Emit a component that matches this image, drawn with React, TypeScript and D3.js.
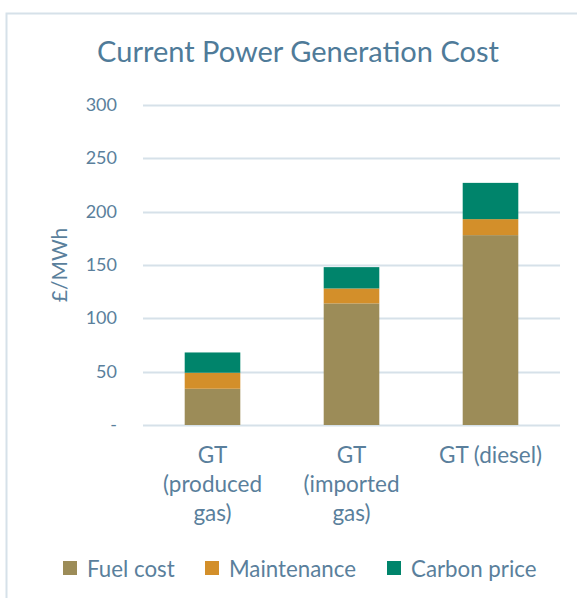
import React, { useEffect, useRef } from 'react';
import * as d3 from 'd3';

const categories = ['GT (produced gas)', 'GT (imported gas)', 'GT (diesel)'];
const categoryLines = [
  ['GT', '(produced', 'gas)'],
  ['GT', '(imported', 'gas)'],
  ['GT (diesel)'],
];
const seriesNames = ['Fuel cost', 'Maintenance', 'Carbon price'];
const fuelCost = [34, 114, 178];
const maintenance = [15, 14, 15];
const carbonPrice = [19, 20, 34];
const yTicks = [0, 50, 100, 150, 200, 250, 300];
const colors = ['#9c8c58', '#d38f2a', '#00846b'];

const WIDTH = 577;
const HEIGHT = 598;
const FONT = 'Lato, "Open Sans", sans-serif';
const TEXT = '#5a7f9c';

export default function App() {
  const svgRef = useRef<SVGSVGElement>(null);

  useEffect(() => {
    if (!svgRef.current) return;
    const svg = d3.select(svgRef.current);
    svg.selectAll('*').remove();

    // outer frame (continues past the right/bottom edges)
    svg
      .append('path')
      .attr('d', `M6.5,${HEIGHT + 5}V13.5H${WIDTH + 5}`)
      .attr('fill', 'none')
      .attr('stroke', '#d6e1e9')
      .attr('stroke-width', 2);

    svg
      .append('text')
      .attr('x', 298)
      .attr('y', 62)
      .attr('text-anchor', 'middle')
      .attr('font-family', FONT)
      .attr('font-size', 29)
      .attr('fill', '#4f7b99')
      .text('Current Power Generation Cost');

    const margin = { left: 143, right: 17, top: 105, bottom: 173 };
    const innerWidth = WIDTH - margin.left - margin.right;
    const innerHeight = HEIGHT - margin.top - margin.bottom;

    const g = svg
      .append('g')
      .attr('transform', `translate(${margin.left},${margin.top})`);

    const x = d3
      .scaleBand()
      .domain(categories)
      .range([0, innerWidth])
      .paddingInner(0.6)
      .paddingOuter(0.3);

    const y = d3.scaleLinear().domain([0, 300]).range([innerHeight, 0]);

    // gridlines
    g.selectAll('.grid')
      .data(yTicks)
      .enter()
      .append('line')
      .attr('x1', 0)
      .attr('x2', innerWidth)
      .attr('y1', (d) => Math.round(y(d)) + 0.5)
      .attr('y2', (d) => Math.round(y(d)) + 0.5)
      .attr('stroke', '#d6e1e9')
      .attr('stroke-width', 2);

    // y tick labels
    g.selectAll('.ytick')
      .data(yTicks)
      .enter()
      .append('text')
      .attr('x', -26)
      .attr('y', (d) => y(d) + 6)
      .attr('text-anchor', 'end')
      .attr('font-family', FONT)
      .attr('font-size', 18)
      .attr('fill', TEXT)
      .text((d) => (d === 0 ? '-' : String(d)));

    // y axis title
    svg
      .append('text')
      .attr('transform', `translate(67,265) rotate(-90)`)
      .attr('text-anchor', 'middle')
      .attr('font-family', FONT)
      .attr('font-size', 21)
      .attr('fill', TEXT)
      .text('£/MWh');

    // stacked bars
    const rows = categories.map((c, i) => ({
      category: c,
      'Fuel cost': fuelCost[i],
      Maintenance: maintenance[i],
      'Carbon price': carbonPrice[i],
    }));
    const stack = d3.stack<any>().keys(seriesNames)(rows);

    g.selectAll('.series')
      .data(stack)
      .enter()
      .append('g')
      .attr('fill', (_d, i) => colors[i])
      .selectAll('rect')
      .data((d) => d)
      .enter()
      .append('rect')
      .attr('x', (d) => x(d.data.category) || 0)
      .attr('width', x.bandwidth())
      .attr('y', (d) => y(d[1]))
      .attr('height', (d) => y(d[0]) - y(d[1]));

    // category labels
    categories.forEach((c, i) => {
      const cx = (x(c) || 0) + x.bandwidth() / 2;
      const t = g
        .append('text')
        .attr('text-anchor', 'middle')
        .attr('font-family', FONT)
        .attr('font-size', 22.5)
        .attr('fill', TEXT);
      categoryLines[i].forEach((line, j) => {
        t.append('tspan')
          .attr('x', cx)
          .attr('y', innerHeight + 38 + j * 29)
          .text(line);
      });
    });

    // legend
    const legendX = [63, 205, 387];
    const legend = svg
      .selectAll('.legend')
      .data(seriesNames)
      .enter()
      .append('g')
      .attr('transform', (_d, i) => `translate(${legendX[i]},561)`);
    legend
      .append('rect')
      .attr('width', 14)
      .attr('height', 14)
      .attr('fill', (_d, i) => colors[i]);
    legend
      .append('text')
      .attr('x', 24)
      .attr('y', 16)
      .attr('font-family', FONT)
      .attr('font-size', 22.3)
      .attr('fill', TEXT)
      .text((d) => d);
  }, []);

  return (
    <div style={{ position: 'absolute', left: 0, top: 0 }}>
      <svg ref={svgRef} width={WIDTH} height={HEIGHT} style={{ display: 'block' }}></svg>
    </div>
  );
}
